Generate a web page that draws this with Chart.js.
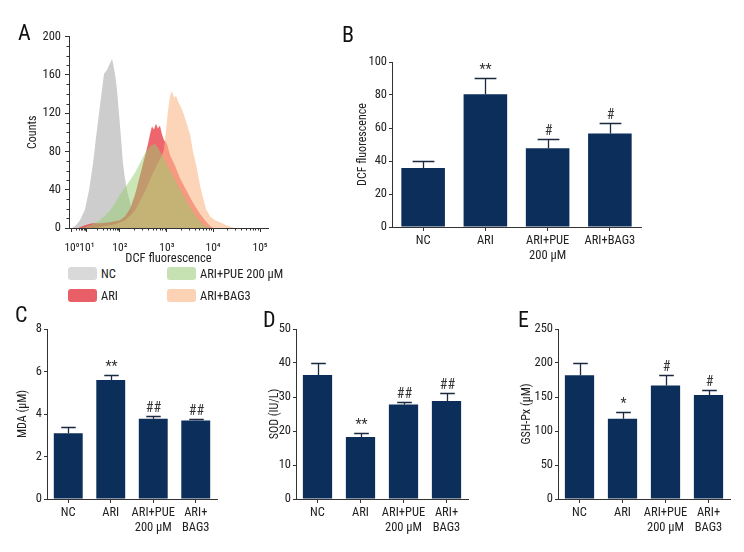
<!DOCTYPE html>
<html><head><meta charset="utf-8">
<script src="https://cdn.jsdelivr.net/npm/chart.js@4.4.0/dist/chart.umd.min.js"></script>
<style>
html,body{margin:0;padding:0;background:#fff}
body{width:744px;height:552px;position:relative;overflow:hidden;font-family:"Roboto Condensed","DejaVu Sans Condensed",sans-serif;color:#222}
canvas{position:absolute}
.lt{position:absolute;font-size:22px;line-height:1;color:#111}
.lg{position:absolute;font-size:12.5px;line-height:13px;display:flex;align-items:center;white-space:nowrap}
.sw{width:29px;height:13px;border-radius:3px;margin-right:4px}
</style></head><body>
<canvas id="cA" width="285" height="241" style="left:0;top:25px"></canvas>
<canvas id="cB" width="320" height="235" style="left:330px;top:40px"></canvas>
<canvas id="cC" width="222" height="232" style="left:0;top:310px"></canvas>
<canvas id="cD" width="223" height="232" style="left:250px;top:310px"></canvas>
<canvas id="cE" width="234" height="232" style="left:505px;top:310px"></canvas>
<div class="lt" style="left:18px;top:22px">A</div>
<div class="lt" style="left:342px;top:24px">B</div>
<div class="lt" style="left:15px;top:304px">C</div>
<div class="lt" style="left:263px;top:309px">D</div>
<div class="lt" style="left:518px;top:309px">E</div>
<div id="legend"></div>
<script>
// ---------- Panel A: flow cytometry histogram (x in display channels, 0-1000) ----------
const decadeChannels = [15, 90, 256, 492, 724, 960];
const decadeLabels = ['10\u2070', '10\u00b9', '10\u00b2', '10\u00b3', '10\u2074', '10\u2075'];

const ncChannel = [15,35,55,80,101,121,136,151,166,176,191,201,211,216,221,231,241,251,261,271,281,291,307,322,337,357,382];
const ncCount   = [0,3,8,19,40,68,95,120,145,161,165,170,174,177,172,161,145,120,95,68,52,40,26,14,7,3,0];

const ariChannel = [45,80,116,156,206,256,281,307,332,357,382,397,407,417,427,437,447,457,467,477,492,508,533,558,583,608,633,658,683,709,724];
const ariCount   = [0,3,5,5,6,8,12,20,35,55,75,88,98,106,103,109,104,107,98,92,88,76,65,52,42,32,23,15,8,2,0];

const pueChannel = [65,106,156,206,231,256,281,307,332,357,382,407,432,447,467,487,508,533,558,583,608,633,658,683,709];
const pueCount   = [0,3,8,18,26,35,42,50,58,68,78,85,88,84,76,68,60,50,40,31,22,14,7,2,0];

const bagChannel = [131,181,231,281,332,382,417,447,467,477,487,497,508,518,528,538,548,563,578,593,608,623,643,658,673,688,709,734,759,799,834];
const bagCount   = [0,2,4,8,18,38,55,68,76,82,100,122,138,143,136,138,132,126,118,108,98,80,62,45,32,20,12,8,6,2,0];

const histSeries = ['NC', 'ARI', 'ARI+PUE 200 \u00b5M', 'ARI+BAG3'];

// ---------- Panels B-E: bar charts ----------
const dcfLabels   = [['NC'], ['ARI'], ['ARI+PUE', '200 \u00b5M'], ['ARI+BAG3']];
const groupLabels = [['NC'], ['ARI'], ['ARI+PUE', '200 \u00b5M'], ['ARI+', 'BAG3']];

const dcfMean = [35.8, 80.4, 47.7, 56.6];
const dcfErr  = [4.4, 9.9, 5.6, 6.4];
const dcfSig  = ['', '**', '#', '#'];

const mdaMean = [3.09, 5.60, 3.78, 3.69];
const mdaErr  = [0.30, 0.22, 0.11, 0.06];
const mdaSig  = ['', '**', '##', '##'];

const sodMean = [36.5, 18.2, 27.8, 28.8];
const sodErr  = [3.4, 1.3, 0.8, 2.3];
const sodSig  = ['', '**', '##', '##'];

const gshMean = [182, 118, 167, 153];
const gshErr  = [17.5, 10, 16, 8];
const gshSig  = ['', '*', '#', '#'];

// ---------- styles ----------
const FONT = '"Roboto Condensed","DejaVu Sans Condensed",sans-serif';
const TXT = '#222';
const AX = '#333';
const NAVY = '#0c2e5a';
Chart.defaults.font.family = FONT;
Chart.defaults.color = TXT;

const histColors = {
  nc:  'rgba(200,200,200,0.9)',
  ari: 'rgba(235,62,72,0.8)',
  pue: 'rgba(150,205,110,0.5)',
  bag: 'rgba(250,185,140,0.62)'
};
const legendSwatch = ['#d9d9d9', '#e95f67', '#c7e2b2', '#fbd3b4'];

function pts(c, v) { return c.map((x, i) => ({x, y: v[i]})); }

const minorTicks = {
  id: 'minorTicks',
  afterDraw(chart) {
    const {ctx, scales: {x, y}} = chart;
    ctx.save();
    ctx.strokeStyle = AX; ctx.lineWidth = 1;
    ctx.beginPath();
    for (let d = 0; d < decadeChannels.length - 1; d++) {
      const a = decadeChannels[d], b = decadeChannels[d + 1];
      for (let k = 2; k < 10; k++) {
        const px = Math.round(x.getPixelForValue(a + (b - a) * Math.log10(k))) + 0.5;
        ctx.moveTo(px, x.top); ctx.lineTo(px, x.top + 2.5);
      }
    }
    for (let v = 10; v < 200; v += 10) {
      if (v % 40 === 0) continue;
      const py = Math.round(y.getPixelForValue(v)) + 0.5;
      ctx.moveTo(y.right, py); ctx.lineTo(y.right - 2.5, py);
    }
    ctx.stroke();
    ctx.restore();
  }
};

function histDs(label, c, v, color, order) {
  return {label, data: pts(c, v), backgroundColor: color, borderColor: 'transparent', borderWidth: 0,
          pointRadius: 0, fill: 'origin', tension: 0, order};
}

new Chart(document.getElementById('cA'), {
  type: 'line',
  data: {datasets: [
    histDs(histSeries[0], ncChannel, ncCount, histColors.nc, 4),
    histDs(histSeries[1], ariChannel, ariCount, histColors.ari, 3),
    histDs(histSeries[3], bagChannel, bagCount, histColors.bag, 2),
    histDs(histSeries[2], pueChannel, pueCount, histColors.pue, 1)
  ]},
  options: {
    responsive: false, animation: false, devicePixelRatio: 1,
    layout: {padding: {left: 0, right: 17, top: 11, bottom: 0}},
    plugins: {legend: {display: false}, tooltip: {enabled: false}},
    scales: {
      x: {type: 'linear', min: 0, max: 1000,
          afterBuildTicks(s) { s.ticks = decadeChannels.map(v => ({value: v})); },
          ticks: {autoSkip: false, maxRotation: 0, padding: 9, font: {size: 11.5}, color: TXT,
                  callback: (v, i) => decadeLabels[i]},
          grid: {drawOnChartArea: false, tickLength: 4, tickColor: AX},
          border: {color: AX, width: 1},
          title: {display: true, text: 'DCF fluorescence', font: {size: 12.5}, color: TXT, padding: {top: 0, bottom: 0}},
          afterFit(s) { s.height = 38; }},
      y: {min: 0, max: 200,
          ticks: {stepSize: 40, padding: 4, font: {size: 12.5}, color: TXT},
          grid: {drawOnChartArea: false, tickLength: 4, tickColor: AX},
          border: {color: AX, width: 1},
          title: {display: true, text: 'Counts', font: {size: 12}, color: TXT, padding: {top: 26, bottom: 0}},
          afterFit(s) { s.width = 69; }}
    }
  },
  plugins: [minorTicks]
});

// legend for panel A
(function () {
  const items = [
    {t: histSeries[0], c: legendSwatch[0], x: 68, y: 267},
    {t: histSeries[2], c: legendSwatch[2], x: 167, y: 267},
    {t: histSeries[1], c: legendSwatch[1], x: 68, y: 289},
    {t: histSeries[3], c: legendSwatch[3], x: 167, y: 289}
  ];
  const host = document.getElementById('legend');
  items.forEach(it => {
    const d = document.createElement('div');
    d.className = 'lg';
    d.style.left = it.x + 'px'; d.style.top = it.y + 'px';
    const s = document.createElement('span'); s.className = 'sw'; s.style.background = it.c;
    const t = document.createElement('span'); t.textContent = it.t;
    d.appendChild(s); d.appendChild(t); host.appendChild(d);
  });
})();

const errPlugin = {
  id: 'errBars',
  afterDatasetsDraw(chart) {
    const {ctx} = chart;
    const ys = chart.scales.y;
    const ds = chart.data.datasets[0];
    const meta = chart.getDatasetMeta(0);
    ctx.save();
    meta.data.forEach((bar, i) => {
      const top = Math.round(ys.getPixelForValue(ds.data[i] + ds.err[i])) + 0.5;
      const x = Math.round(bar.x) + 0.5;
      const half = bar.width * 0.25;
      ctx.strokeStyle = '#1b2940'; ctx.lineWidth = 1.3;
      ctx.beginPath();
      ctx.moveTo(x, bar.y); ctx.lineTo(x, top);
      ctx.moveTo(x - half, top); ctx.lineTo(x + half, top);
      ctx.stroke();
      if (ds.sig[i]) {
        ctx.fillStyle = '#333';
        ctx.font = '14px ' + FONT;
        ctx.textAlign = 'center'; ctx.textBaseline = 'middle';
        ctx.fillText(ds.sig[i], x, top - 8);
      }
    });
    ctx.restore();
  }
};

function makeBar(id, labels, mean, err, sig, yMax, yStep, title, g) {
  return new Chart(document.getElementById(id), {
    type: 'bar',
    data: {labels, datasets: [{data: mean, err, sig, backgroundColor: NAVY, borderWidth: 0,
                               barPercentage: g.bp, categoryPercentage: 1}]},
    options: {
      responsive: false, animation: false, devicePixelRatio: 1,
      layout: {padding: {left: 0, right: g.pr, top: g.pt, bottom: 0}},
      plugins: {legend: {display: false}, tooltip: {enabled: false}},
      scales: {
        x: {grid: {drawOnChartArea: false, offset: false, tickLength: 4, tickColor: AX},
            border: {color: AX, width: 1},
            ticks: {color: TXT, font: {size: 12.5}, padding: 2, maxRotation: 0, autoSkip: false},
            afterFit(s) { s.height = g.xh; }},
        y: {min: 0, max: yMax,
            ticks: {stepSize: yStep, color: TXT, font: {size: 12.5}, padding: 2},
            grid: {drawOnChartArea: false, tickLength: 3, tickColor: AX},
            border: {color: AX, width: 1},
            title: {display: true, text: title, color: TXT, font: {size: 12}, padding: {top: g.tp, bottom: 0}},
            afterFit(s) { s.width = g.yw; }}
      }
    },
    plugins: [errPlugin]
  });
}

makeBar('cB', dcfLabels, dcfMean, dcfErr, dcfSig, 100, 20, 'DCF fluorescence', {yw: 62, pr: 9, pt: 22, xh: 48, tp: 26, bp: 0.7});
makeBar('cC', groupLabels, mdaMean, mdaErr, mdaSig, 8, 2, 'MDA (\u00b5M)', {yw: 47, pr: 5, pt: 19, xh: 43, tp: 16, bp: 0.68});
makeBar('cD', groupLabels, sodMean, sodErr, sodSig, 50, 10, 'SOD (IU/L)', {yw: 46, pr: 5, pt: 19, xh: 43, tp: 18, bp: 0.68});
makeBar('cE', groupLabels, gshMean, gshErr, gshSig, 250, 50, 'GSH-Px (\u00b5M)', {yw: 53, pr: 9, pt: 19, xh: 43, tp: 15, bp: 0.68});
</script>
</body></html>
